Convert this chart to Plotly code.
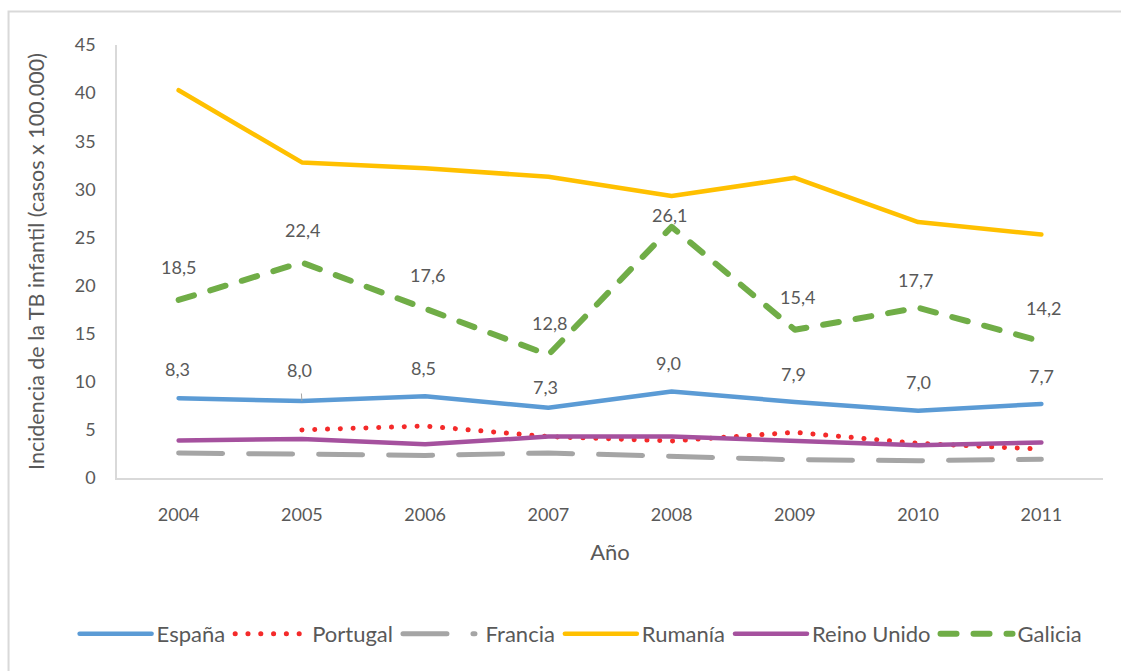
import plotly.graph_objects as go

# Años del periodo estudiado
years = ["2004", "2005", "2006", "2007", "2008", "2009", "2010", "2011"]

# Incidencia de la TB infantil (casos x 100.000)
espana = [8.3, 8.0, 8.5, 7.3, 9.0, 7.9, 7.0, 7.7]
portugal = [None, 5.0, 5.4, 4.3, 3.85, 4.75, 3.6, 3.0]
francia = [2.6, 2.5, 2.35, 2.6, 2.3, 1.9, 1.8, 1.95]
rumania = [40.3, 32.8, 32.2, 31.3, 29.3, 31.2, 26.6, 25.3]
reino_unido = [3.9, 4.05, 3.5, 4.3, 4.3, 3.9, 3.4, 3.7]
galicia = [18.5, 22.4, 17.6, 12.8, 26.1, 15.4, 17.7, 14.2]

# Desplazamiento vertical (px) y horizontal de cada etiqueta de datos
galicia_yshift = [33, 32, 34, 32, 12, 33, 28, 33]
galicia_xshift = [0, 1, 2, 1, -2, 3, -3, 2]
espana_yshift = [29, 31, 28, 21, 28, 28, 29, 28]
espana_xshift = [-1, -1, -2, -3, -3, -1, 0, 0]

FONT = "Lato, 'Open Sans', sans-serif"
TXT = "#595959"

fig = go.Figure()

series = [
    ("España", espana, dict(color="#5B9BD5", width=4.5)),
    ("Portugal", portugal, dict(color="#F42A2A", width=5, dash="0.1px,12.7px")),
    ("\u00a0Francia", francia, dict(color="#A5A5A5", width=5, dash="44px,26px")),
    ("Rumanía", rumania, dict(color="#FFC000", width=4.5)),
    ("Reino Unido", reino_unido, dict(color="#A5519E", width=4.5)),
    ("Galicia", galicia, dict(color="#70AD47", width=6, dash="16px,17px")),
]
for name, vals, line in series:
    fig.add_trace(go.Scatter(
        x=years, y=vals, name=name, mode="lines", line=line,
        connectgaps=False, hoverinfo="x+y+name",
    ))

annotations = []


def fmt(v):
    return f"{v:.1f}".replace(".", ",")


# En un eje de categorías las anotaciones se sitúan por índice de categoría
for i, v in enumerate(galicia):
    annotations.append(dict(
        x=i, y=v, xref="x", yref="y", text=fmt(v), showarrow=False,
        yshift=galicia_yshift[i], xshift=galicia_xshift[i],
        font=dict(family=FONT, size=18, color=TXT),
    ))
for i, v in enumerate(espana):
    ann = dict(
        x=i, y=v, xref="x", yref="y", text=fmt(v),
        yshift=espana_yshift[i], xshift=espana_xshift[i],
        font=dict(family=FONT, size=18, color=TXT), showarrow=False,
    )
    if i == 1:
        # etiqueta desplazada con línea guía hasta el punto
        ann.update(showarrow=True, arrowhead=0, arrowwidth=1, arrowcolor="#A6A6A6",
                   ax=-2, ay=-31, yshift=0, xshift=0, standoff=0, startstandoff=11)
    annotations.append(ann)

fig.update_layout(
    width=1121, height=671,
    margin=dict(l=117, r=18, t=45, b=193),
    paper_bgcolor="white", plot_bgcolor="white",
    font=dict(family=FONT, size=18, color=TXT),
    showlegend=True,
    legend=dict(
        orientation="h", x=-0.043, y=-0.36, xanchor="left", yanchor="middle",
        font=dict(family=FONT, size=22, color=TXT), itemwidth=72,
        tracegroupgap=0, traceorder="normal",
    ),
    xaxis=dict(
        type="category", range=[-0.5, 7.5], showgrid=False,
        showline=True, linecolor="#D9D9D9", linewidth=1.5,
        ticks="", ticklabelstandoff=20,
        tickfont=dict(family=FONT, size=18, color=TXT),
        title=dict(text="Año", standoff=20, font=dict(family=FONT, size=22, color=TXT)),
        fixedrange=True,
    ),
    yaxis=dict(
        range=[0, 45], dtick=5, showgrid=False, zeroline=False,
        showline=True, linecolor="#D9D9D9", linewidth=1.5,
        ticks="", ticklabelstandoff=16,
        tickfont=dict(family=FONT, size=18, color=TXT),
        title=dict(text="Incidencia de la TB infantil (casos x 100.000)", standoff=24,
                   font=dict(family=FONT, size=21.5, color=TXT)),
        fixedrange=True,
    ),
    annotations=annotations,
    shapes=[dict(
        type="rect", xref="paper", yref="paper",
        x0=-0.1100, x1=1.2, y0=-0.6, y1=1.0774,
        line=dict(color="#D9D9D9", width=2), layer="below",
    )],
)

# Extremos redondeados para las líneas (puntos y guiones redondos)
post = """
var gd = document.getElementById('{plot_id}');
function roundCaps(){
  gd.querySelectorAll('.scatterlayer .js-line, .legend .js-line').forEach(function(p){
    p.style.strokeLinecap = 'round';
    p.style.strokeLinejoin = 'round';
  });
}
roundCaps();
gd.on('plotly_afterplot', roundCaps);
"""

fig.write_html("out.html", post_script=post, config={"displayModeBar": False})
